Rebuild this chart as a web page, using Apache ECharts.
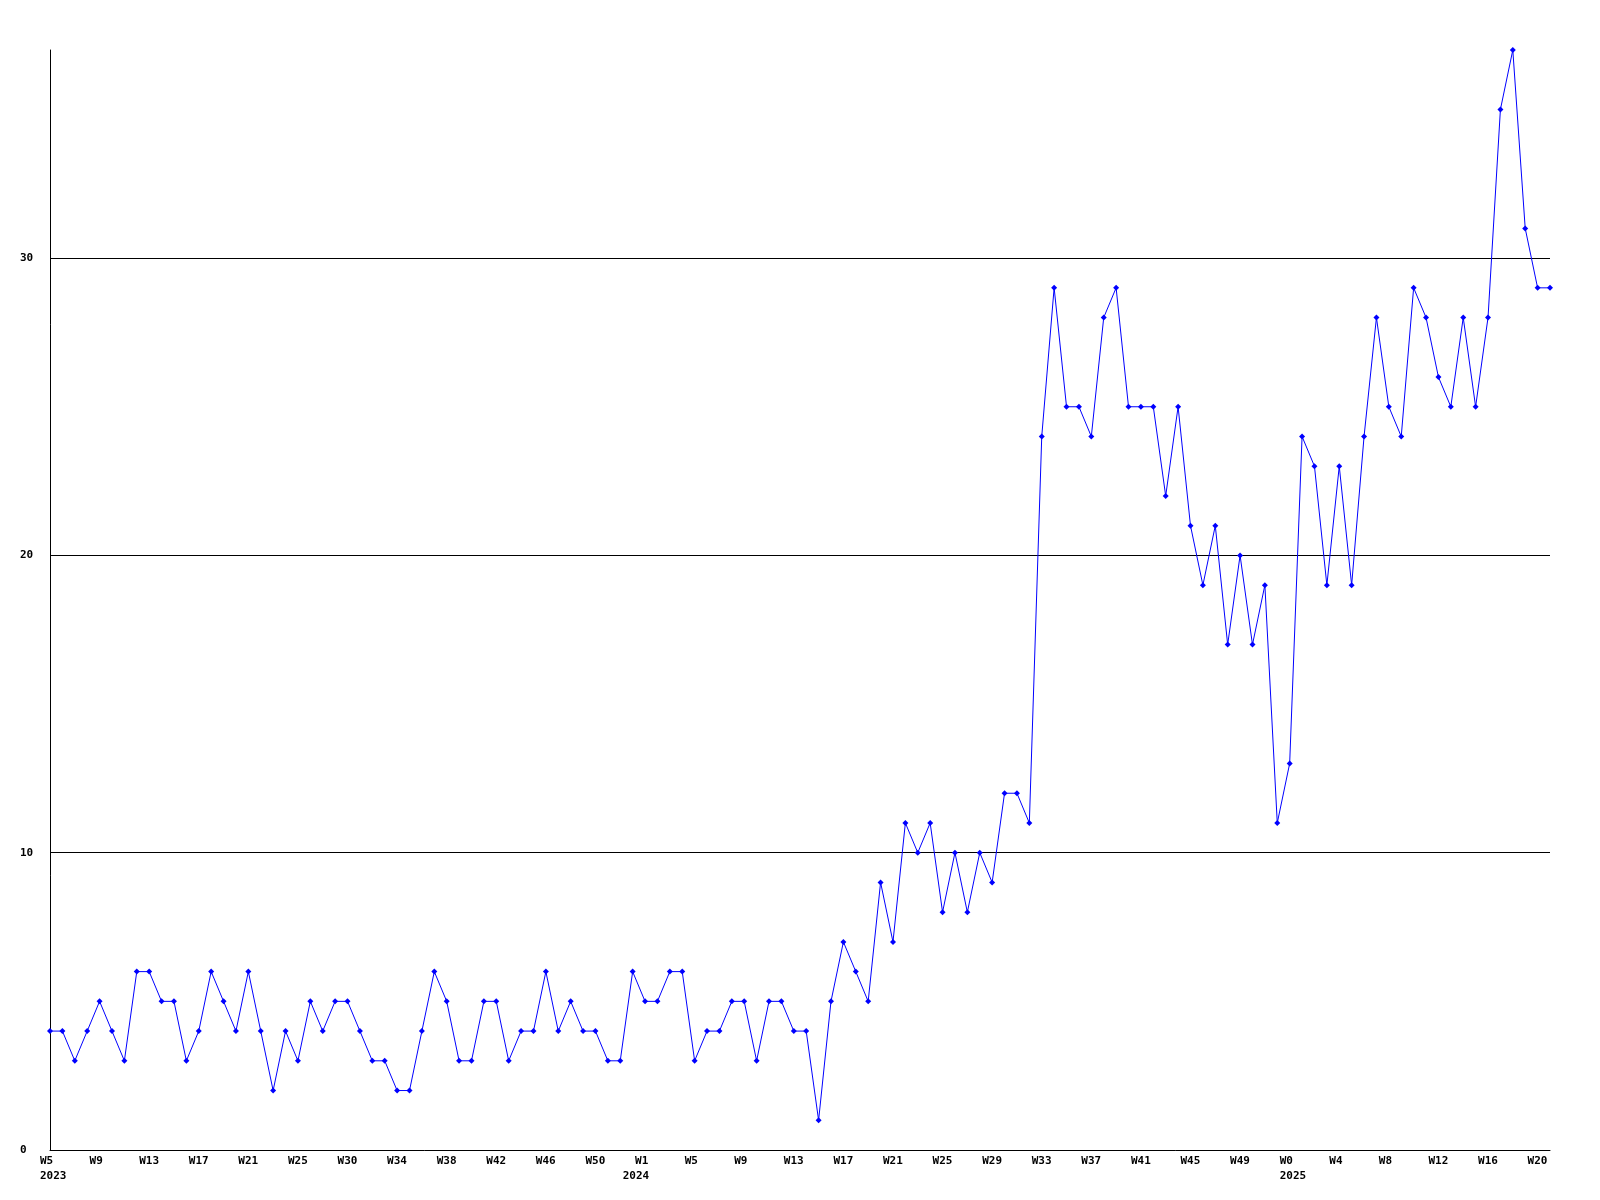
<!DOCTYPE html>
<html><head><meta charset="utf-8">
<script src="https://cdn.jsdelivr.net/npm/echarts@6/dist/echarts.min.js"></script>
<style>html,body{margin:0;padding:0;background:#fff}#c{width:1600px;height:1200px}</style>
</head><body><div id="c"></div>
<script>
const weeks2023 = ['W5','W6','W7','W8','W9','W10','W11','W12','W13','W14','W15','W16','W17','W18','W19','W20','W21','W22','W23','W24','W25','W26','W28','W29','W30','W31','W32','W33','W34','W35','W36','W37','W38','W39','W40','W41','W42','W43','W44','W45','W46','W47','W48','W49','W50','W51','W52'];
const weeks2024 = ['W0','W1','W2','W3','W4','W5','W6','W7','W8','W9','W10','W11','W12','W13','W14','W15','W16','W17','W18','W19','W20','W21','W22','W23','W24','W25','W26','W27','W28','W29','W30','W31','W32','W33','W34','W35','W36','W37','W38','W39','W40','W41','W42','W43','W44','W45','W46','W47','W48','W49','W50','W51','W52'];
const weeks2025 = ['W0','W1','W2','W3','W4','W5','W6','W7','W8','W9','W10','W11','W12','W13','W14','W15','W16','W17','W18','W19','W20','W21'];
const values2023 = [4,4,3,4,5,4,3,6,6,5, 5,3,4,6,5,4,6,4,2,4, 3,5,4,5,5,4,3,3,2,2, 4,6,5,3,3,5,5,3,4,4, 6,4,5,4,4,3,3];
const values2024 = [6,5,5,6,6,3,4,4,5,5, 3,5,5,4,4,1,5,7,6,5, 9,7,11,10,11,8,10,8,10,9, 12,12,11,24,29,25,25,24,28,29, 25,25,25,22,25,21,19,21,17,20, 17,19,11];
const values2025 = [13,24,23,19,23,19,24,28,25,24, 29,28,26,25,28,25,28,35,37,31, 29,29];
const yearLabels = ['2023','2024','2025'];
const yTicks = [0,10,20,30];

const weekGroups = [weeks2023, weeks2024, weeks2025];
const categories = [], values = [], yearStart = {};
[values2023, values2024, values2025].forEach((vals, g) => {
  yearStart[categories.length] = yearLabels[g];
  weekGroups[g].forEach((w, i) => { categories.push(g + '|' + w); values.push(vals[i]); });
});

const FONT = '"DejaVu Sans Mono", "Liberation Mono", monospace';
const chart = echarts.init(document.getElementById('c'), null, {renderer: 'canvas'});
chart.setOption({
  animation: false,
  backgroundColor: '#ffffff',
  grid: {left: 50, right: 50, top: 50, bottom: 50, containLabel: false},
  xAxis: {
    type: 'category',
    data: categories,
    boundaryGap: false,
    axisLine: {show: true, lineStyle: {color: '#000', width: 1}},
    axisTick: {show: false},
    splitLine: {show: false},
    axisLabel: {
      interval: (idx) => idx % 4 === 0 || yearStart[idx] !== undefined,
      margin: 4,
      align: 'center',
      formatter: (val, idx) => {
        const w = idx % 4 === 0 ? val.split('|')[1] : ' ';
        const y = yearStart[idx];
        return y ? '{w|' + w + '}\n{w|' + y + '}' : '{w|' + w + '}';
      },
      rich: {w: {width: 20, align: 'left', fontFamily: FONT, fontSize: 11, fontWeight: 'bold', lineHeight: 15, color: '#000'}}
    }
  },
  yAxis: {
    type: 'value',
    min: 0, max: 37, interval: 10,
    axisLine: {show: true, lineStyle: {color: '#000', width: 1}},
    axisTick: {show: false},
    splitLine: {show: true, showMinLine: false, showMaxLine: false, lineStyle: {color: '#000', width: 1}},
    axisLabel: {
      showMaxLabel: false,
      align: 'left', margin: 30,
      fontFamily: FONT, fontSize: 11, fontWeight: 'bold', color: '#000',
      formatter: (v) => yTicks.includes(v) ? String(v) : ''
    }
  },
  series: [{
    type: 'line',
    data: values,
    symbol: 'diamond',
    symbolSize: 6,
    showSymbol: true,
    showAllSymbol: true,
    lineStyle: {color: '#0000ff', width: 1},
    itemStyle: {color: '#0000ff'},
    emphasis: {disabled: true}
  }]
});
</script></body></html>
